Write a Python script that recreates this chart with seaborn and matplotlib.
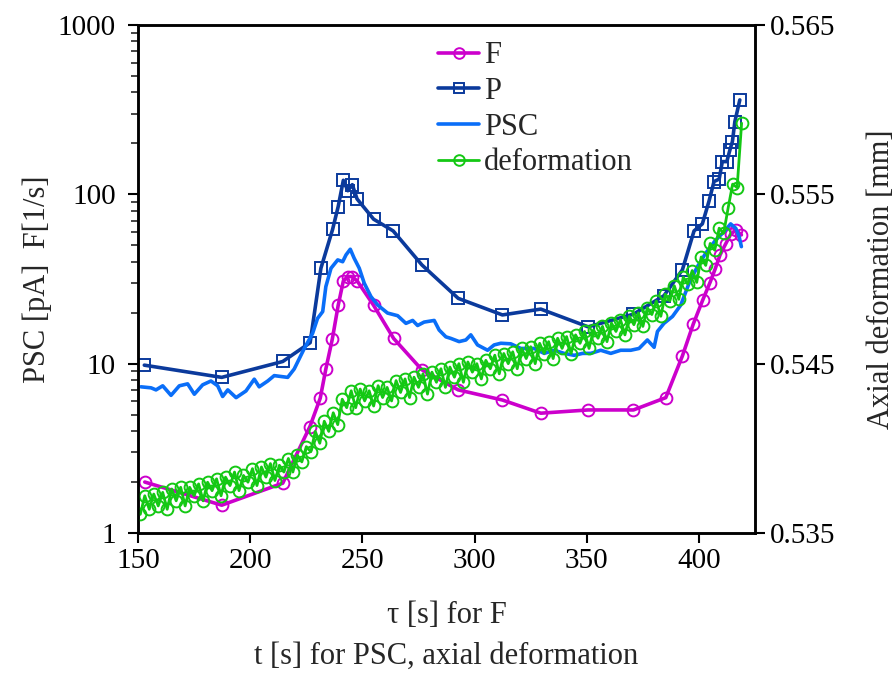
import numpy as np
import matplotlib
matplotlib.use('Agg')
import matplotlib.pyplot as plt
from matplotlib.ticker import FixedLocator, NullLocator, LogLocator, NullFormatter
import seaborn as sns

# F and P are sampled at the same tau values
f_t = [153.0, 187.3, 214.5, 226.6, 231.2, 233.7, 236.6, 239.2, 241.5, 243.4, 245.2,
       247.6, 255.0, 263.9, 276.5, 292.7, 312.4, 329.5, 350.6, 370.8, 385.2, 392.6,
       397.5, 401.7, 404.9, 407.2, 409.4, 411.9, 414.1, 416.4, 418.9]
f_val = [2.0, 1.46, 1.97, 4.25, 6.25, 9.3, 14.0, 22.1, 30.8, 32.7, 32.7,
         30.9, 22.1, 14.1, 9.2, 7.0, 6.1, 5.1, 5.33, 5.33, 6.3, 11.1,
         17.2, 23.8, 30.1, 36.2, 43.9, 51.0, 58.0, 61.6, 57.6]

p_t = [152.8, 187.3, 214.5, 226.7, 231.5, 236.7, 239.2, 241.5, 243.5, 245.5, 247.6,
       255.0, 263.7, 276.5, 292.7, 312.4, 329.5, 350.6, 370.8, 384.4, 392.6, 397.8,
       401.5, 404.5, 406.7, 409.0, 410.4, 412.4, 413.8, 414.9, 416.0, 418.2]
p_val = [9.8, 8.3, 10.3, 13.3, 36.6, 62.0, 84.6, 121.0, 105.0, 114.0, 94.0,
         71.3, 60.8, 38.3, 24.3, 19.4, 21.0, 16.5, 19.6, 25.2, 35.8, 60.8,
         66.9, 91.4, 119.0, 123.0, 156.0, 156.0, 183.0, 205.0, 269.0, 361.0]

psc_t = [151.3, 155.8, 158.0, 161.0, 164.7, 168.4, 172.1, 175.1, 178.8, 182.5, 185.5,
         187.7, 190.0, 193.7, 198.1, 201.8, 204.0, 207.8, 210.7, 216.7, 219.6, 224.1,
         227.8, 230.0, 232.3, 233.7, 236.0, 239.0, 241.2, 242.7, 244.6, 246.3, 248.6,
         250.8, 253.8, 256.8, 261.2, 265.7, 269.4, 272.4, 274.6, 277.5, 282.0, 284.2,
         287.2, 289.4, 293.1, 296.1, 298.3, 301.3, 305.8, 308.7, 311.7, 316.1, 320.6,
         326.5, 331.0, 335.5, 339.9, 344.4, 348.1, 351.8, 356.2, 360.7, 365.1, 369.6,
         373.3, 377.0, 380.0, 381.5, 384.4, 388.2, 391.9, 395.6, 399.3, 403.0, 407.5,
         411.2, 414.1, 416.4, 417.9, 418.9]
psc_val = [7.3, 7.2, 7.0, 7.4, 6.5, 7.4, 7.6, 6.6, 7.5, 7.9, 7.4,
           6.4, 7.0, 6.3, 6.9, 8.1, 7.3, 7.9, 8.5, 8.3, 9.3, 12.3,
           15.1, 18.5, 20.3, 28.5, 36.6, 41.0, 40.0, 43.9, 47.4, 42.0, 36.6,
           29.9, 24.9, 22.2, 19.9, 19.2, 17.3, 18.0, 16.8, 17.6, 18.0, 15.8,
           14.4, 14.1, 13.5, 13.8, 14.8, 12.9, 12.0, 12.9, 13.2, 13.1, 12.3,
           12.3, 11.5, 12.0, 11.5, 11.2, 11.5, 11.5, 12.0, 11.5, 12.0, 12.0,
           12.3, 13.8, 12.5, 15.5, 17.3, 19.0, 22.2, 29.9, 37.4, 44.9, 53.8,
           60.2, 66.9, 63.0, 56.2, 49.1]

# axial deformation [mm], sampled every 2 s
def_t = list(range(151, 417, 2)) + [417, 419]
def_val = [0.5361, 0.5372, 0.5364, 0.5373, 0.5366, 0.5374, 0.5364, 0.5376, 0.5369, 0.5377,
           0.5366, 0.5377, 0.5372, 0.5379, 0.5369, 0.5380, 0.5375, 0.5382, 0.5372, 0.5383,
           0.5378, 0.5386, 0.5375, 0.5384, 0.5380, 0.5388, 0.5378, 0.5389, 0.5383, 0.5391,
           0.5381, 0.5390, 0.5386, 0.5394, 0.5386, 0.5396, 0.5392, 0.5401, 0.5398, 0.5410,
           0.5403, 0.5416, 0.5410, 0.5421, 0.5414, 0.5429, 0.5424, 0.5434, 0.5424, 0.5435,
           0.5428, 0.5434, 0.5425, 0.5437, 0.5430, 0.5436, 0.5428, 0.5440, 0.5433, 0.5441,
           0.5430, 0.5442, 0.5436, 0.5444, 0.5432, 0.5445, 0.5439, 0.5447, 0.5436, 0.5448,
           0.5442, 0.5450, 0.5439, 0.5451, 0.5445, 0.5450, 0.5441, 0.5452, 0.5447, 0.5455,
           0.5444, 0.5456, 0.5450, 0.5457, 0.5447, 0.5459, 0.5453, 0.5460, 0.5450, 0.5462,
           0.5456, 0.5463, 0.5453, 0.5465, 0.5459, 0.5466, 0.5456, 0.5467, 0.5462, 0.5469,
           0.5459, 0.5470, 0.5465, 0.5472, 0.5463, 0.5474, 0.5469, 0.5476, 0.5467, 0.5478,
           0.5473, 0.5480, 0.5472, 0.5483, 0.5479, 0.5487, 0.5478, 0.5491, 0.5487, 0.5496,
           0.5488, 0.5501, 0.5497, 0.5505, 0.5498, 0.5513, 0.5508, 0.5521, 0.5517, 0.5530,
           0.5527, 0.5542, 0.5556, 0.5554, 0.5592]

x_ticks = [150, 200, 250, 300, 350, 400]
left_ticks = [1, 10, 100, 1000]
right_ticks = [0.535, 0.545, 0.555, 0.565]

C_F = '#CC00CC'
C_P = '#0B3A9C'
C_PSC = '#0A6EF8'
C_DEF = '#14C814'

sns.set_style('ticks')
plt.rcParams['font.family'] = ['Liberation Serif', 'DejaVu Serif']

fig = plt.figure(figsize=(8.94, 6.73), dpi=100)
ax = fig.add_axes([0.1544, 0.208, 0.6902, 0.7549])
ax2 = ax.twinx()

mk = dict(markersize=8.5, markerfacecolor='none', markeredgewidth=1.4)
sns.lineplot(x=f_t, y=f_val, ax=ax, color=C_F, linewidth=2.6, marker='o',
             markeredgecolor=C_F, label='F', sort=False, estimator=None, legend=False, **mk)
sns.lineplot(x=p_t, y=p_val, ax=ax, color=C_P, linewidth=2.6, marker='s',
             markeredgecolor=C_P, label='P', sort=False, estimator=None, legend=False, **mk)
sns.lineplot(x=psc_t, y=psc_val, ax=ax, color=C_PSC, linewidth=2.6, label='PSC',
             sort=False, estimator=None, legend=False)
sns.lineplot(x=def_t, y=def_val, ax=ax2, color=C_DEF, linewidth=2.0, marker='o',
             markeredgecolor=C_DEF, label='deformation', sort=False, estimator=None,
             legend=False, **mk)

ax.set_yscale('log')
ax.set_xlim(150, 425)
ax.set_ylim(1, 1000)
ax.set_xticks(x_ticks)
ax.set_xticklabels([str(v) for v in x_ticks])
ax.yaxis.set_major_locator(FixedLocator(left_ticks))
ax.set_yticklabels([str(v) for v in left_ticks])
ax.yaxis.set_minor_locator(LogLocator(base=10, subs=np.arange(2, 10)))
ax.yaxis.set_minor_formatter(NullFormatter())

ax2.set_ylim(0.535, 0.565)
ax2.yaxis.set_major_locator(FixedLocator(right_ticks))
ax2.set_yticklabels(['%.3f' % v for v in right_ticks])
ax2.yaxis.set_minor_locator(NullLocator())

for a in (ax, ax2):
    for s in a.spines.values():
        s.set_linewidth(1.8)
        s.set_color('black')
    a.tick_params(which='major', direction='out', length=7, width=1.5,
                  labelsize=21, colors='black', pad=4)
    a.tick_params(which='minor', direction='out', length=5, width=1.2)
ax.tick_params(axis='y', which='major', pad=9)
ax.tick_params(axis='x', top=False)
ax2.tick_params(axis='x', top=False)

ax.set_ylabel('PSC [pA]  F[1/s]', fontsize=22, labelpad=4)
ax2.set_ylabel('Axial deformation [mm]', fontsize=22, labelpad=22)
ax.set_xlabel('\u03c4 [s] for F\nt [s] for PSC, axial deformation', fontsize=22,
              linespacing=1.55, labelpad=19)

h1, l1 = ax.get_legend_handles_labels()
h2, l2 = ax2.get_legend_handles_labels()
leg = ax2.legend(h1 + h2, l1 + l2, loc='upper left', bbox_to_anchor=(0.486, 0.968),
                 frameon=False, fontsize=22, handlelength=1.35, handletextpad=0.15,
                 labelspacing=0.22, borderpad=0, borderaxespad=0, markerscale=0.9)

fig.savefig('out.png', dpi=100)
